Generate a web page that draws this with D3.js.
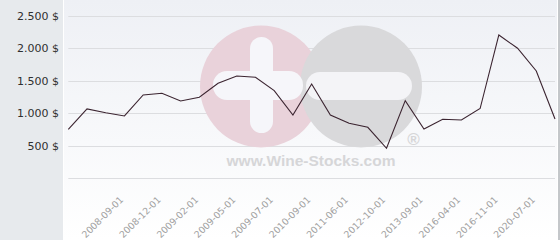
<!DOCTYPE html>
<html><head><meta charset="utf-8">
<script src="https://cdn.jsdelivr.net/npm/d3@7"></script>
<style>html,body{margin:0;padding:0;background:#fff;}svg{display:block;}</style>
</head><body>
<svg id="c" width="560" height="240"></svg>
<script>
const categories = ["2008-03-01","2008-05-01","2008-07-01","2008-09-01","2008-10-01","2008-12-01","2009-01-01","2009-02-01","2009-03-01","2009-05-01","2009-06-01","2009-07-01","2010-03-01","2010-09-01","2010-12-01","2011-06-01","2012-02-01","2012-10-01","2013-03-01","2013-09-01","2014-10-01","2016-04-01","2016-07-01","2016-11-01","2018-09-01","2020-07-01","2021-05-01"];
const prices = [755,1068,1010,960,1283,1310,1191,1248,1464,1576,1556,1350,975,1453,975,847,786,462,1196,760,909,898,1075,2208,2003,1653,914];
const tickLabels = ["2008-09-01","2008-12-01","2009-02-01","2009-05-01","2009-07-01","2010-09-01","2011-06-01","2012-10-01","2013-09-01","2016-04-01","2016-11-01","2020-07-01"];
const yTicks = [500,1000,1500,2000,2500];
const yGrid = [0,500,1000,1500,2000,2500];

const svg = d3.select("#c");
const W = 560, H = 240;
const plotL = 68.3, plotR = 555, yTop = 16, yBot = 178.3;

const defs = svg.append("defs");
const grad = defs.append("linearGradient").attr("id","bg").attr("x1",0).attr("y1",0).attr("x2",0).attr("y2",1);
grad.append("stop").attr("offset","0%").attr("stop-color","#eef0f5");
grad.append("stop").attr("offset","100%").attr("stop-color","#ffffff");

// left panel
svg.append("rect").attr("x",0).attr("y",0).attr("width",63).attr("height",H).attr("fill","#e7eaed");
svg.append("rect").attr("x",64).attr("y",0).attr("width",493).attr("height",H).attr("fill","url(#bg)");
svg.append("rect").attr("x",558).attr("y",0).attr("width",2).attr("height",H).attr("fill","#c4c7ca");

const x = d3.scalePoint().domain(categories).range([plotL, plotR]);
const y = d3.scaleLinear().domain([0,2500]).range([yBot, yTop]);

// grid
svg.append("g").selectAll("line").data(yGrid).join("line")
  .attr("x1",plotL).attr("x2",plotR)
  .attr("y1",d=>Math.round(y(d))+0.5).attr("y2",d=>Math.round(y(d))+0.5)
  .attr("stroke","#dcdde0").attr("stroke-width",1);

// watermark
const wm = svg.append("g");
wm.append("circle").attr("cx",261).attr("cy",86.5).attr("r",61).attr("fill","#e9d2da");
wm.append("circle").attr("cx",361).attr("cy",86.5).attr("r",61).attr("fill","#d9d9db");
wm.append("rect").attr("x",250).attr("y",37).attr("width",23).attr("height",96).attr("rx",11.5).attr("fill","#f6f6fa");
wm.append("rect").attr("x",213).attr("y",71).attr("width",90).attr("height",29).attr("rx",14).attr("fill","#f6f6fa");
wm.append("rect").attr("x",306).attr("y",72).attr("width",106).attr("height",28).attr("rx",14).attr("fill","#f4f4f7");
wm.append("text").attr("x",311).attr("y",166).attr("text-anchor","middle")
  .attr("font-family","Liberation Sans, Arial, sans-serif").attr("font-weight","bold").attr("font-size",15.5)
  .attr("fill","#d6d6d8").text("www.Wine-Stocks.com");
wm.append("text").attr("x",413.5).attr("y",145).attr("text-anchor","middle")
  .attr("font-family","Liberation Sans, Arial, sans-serif").attr("font-weight","bold").attr("font-size",17)
  .attr("fill","#d6d6d8").text("®");

// line
const line = d3.line().x((d,i)=>x(categories[i])).y(d=>y(d));
svg.append("path").datum(prices).attr("d",line).attr("fill","none")
  .attr("stroke","#3b2430").attr("stroke-width",1.1).attr("stroke-linejoin","miter");

// y axis labels
const fmt = d3.formatLocale({decimal:",",thousands:".",grouping:[3],currency:[""," $"]}).format("$,.0f");
svg.append("g").selectAll("text").data(yTicks).join("text")
  .attr("x",59).attr("y",d=>y(d)+4)
  .attr("text-anchor","end").attr("font-family","DejaVu Sans, sans-serif").attr("font-size",11)
  .attr("fill","#2f2f2f").text(d=>fmt(d));

// x axis labels
const xAxis = d3.axisBottom(x).tickValues(tickLabels).tickSize(0).tickPadding(0);
const gx = svg.append("g").attr("transform",`translate(0,${yBot})`).call(xAxis);
gx.select(".domain").remove();
gx.selectAll("text")
  .attr("font-family","DejaVu Sans, sans-serif").attr("font-size",9.3).attr("fill","#a0a0a0")
  .attr("text-anchor","end").attr("dy",null).attr("y",null)
  .attr("transform","translate(-1,22) rotate(-45)");
</script>
</body></html>
